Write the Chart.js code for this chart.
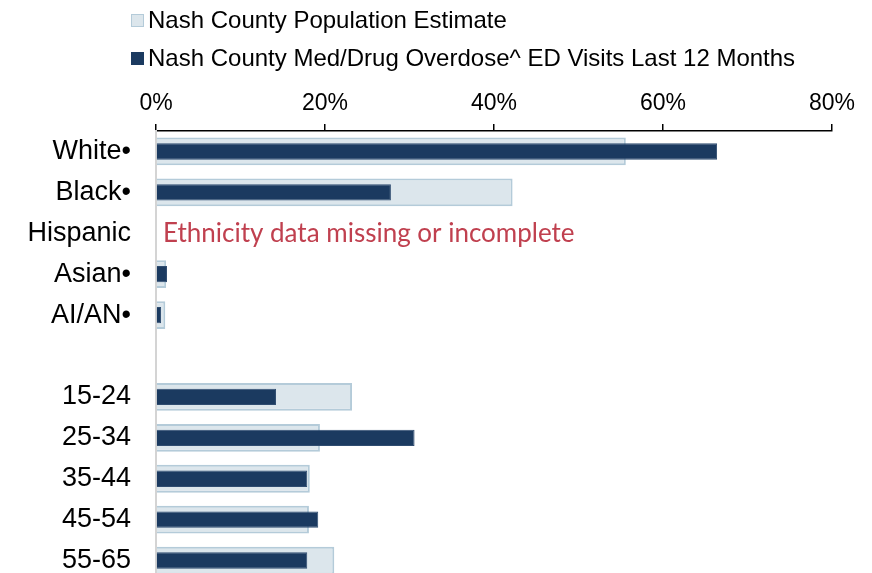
<!DOCTYPE html>
<html>
<head>
<meta charset="utf-8">
<script src="https://cdn.jsdelivr.net/npm/chart.js@4"></script>
<style>
  html, body { margin: 0; padding: 0; background: #fff; overflow: hidden; }
  #wrap { position: relative; width: 872px; height: 600px; }
  #legend { position: absolute; left: 131px; top: 1px; font-family: "Liberation Sans", Arial, sans-serif; font-size: 24px; color: #000; }
  .item { height: 38px; display: flex; align-items: center; }
  .box { width: 11px; height: 11px; margin-right: 4px; }
</style>
</head>
<body>
<div id="wrap">
  <canvas id="myChart" width="872" height="600"></canvas>
  <div id="legend">
    <div class="item"><span class="box" style="background:#dce6ec;border:1px solid #b4cbd9"></span>Nash County Population Estimate</div>
    <div class="item"><span class="box" style="background:#1b3a60;border:1px solid #1b3a60"></span>Nash County Med/Drug Overdose^ ED Visits Last 12 Months</div>
  </div>
</div>
<script>
let labels = ['White\u2022', 'Black\u2022', 'Hispanic', 'Asian\u2022', 'AI/AN\u2022', '', '15-24', '25-34', '35-44', '45-54', '55-65'];
let popData = [55.6, 42.2, null, 1.2, 1.1, null, 23.2, 19.4, 18.2, 18.1, 21.1];
let edData = [66.4, 27.8, null, 1.3, 0.6, null, 14.2, 30.6, 17.9, 19.2, 17.9];
let xTicks = [0, 20, 40, 60, 80];

let noteText = 'Ethnicity data missing or incomplete';

// red note on the Hispanic row
let notePlugin = {
    id: 'note',
    afterDatasetsDraw(chart) {
        let ctx = chart.ctx;
        let y = chart.scales.y.getPixelForValue(2);
        ctx.save();
        ctx.font = '26px Lato, sans-serif';
        ctx.fillStyle = '#c0404f';
        ctx.textBaseline = 'middle';
        ctx.fillText(noteText, chart.chartArea.left + 7, y);
        ctx.restore();
    }
};

let myChart = document.getElementById("myChart").getContext('2d');

let chart = new Chart(myChart, {
    type: 'bar',
    data: {
        labels: labels,
        datasets: [{
                label: 'Nash County Med/Drug Overdose^ ED Visits Last 12 Months',
                data: edData,
                backgroundColor: '#1b3a60',
                borderColor: '#2f4c70',
                borderWidth: 1,
                barPercentage: 0.4,
                categoryPercentage: 1,
                order: 1
            },
            {
                label: 'Nash County Population Estimate',
                data: popData,
                backgroundColor: '#dce6ec',
                borderColor: '#b4cbd9',
                borderWidth: 2,
                barPercentage: 0.68,
                categoryPercentage: 1,
                order: 2
            }
        ]
    },
    options: {
        indexAxis: 'y',
        responsive: false,
        animation: false,
        grouped: false,
        layout: { padding: { left: 0, right: 40, top: 0, bottom: 19 } },
        plugins: {
            legend: { display: false },
            tooltip: { enabled: false }
        },
        scales: {
            x: {
                position: 'top',
                min: 0,
                max: 80,
                afterBuildTicks: (scale) => { scale.ticks = xTicks.map(v => ({ value: v })); },
                afterFit: (scale) => { scale.height = 131; },
                ticks: {
                    callback: (v) => v + '%',
                    color: '#000',
                    padding: 7,
                    maxRotation: 0,
                    font: { family: '"Liberation Sans", Arial, sans-serif', size: 23 }
                },
                grid: { drawOnChartArea: false, drawTicks: true, tickLength: 7, color: '#000', lineWidth: 1.5 },
                border: { display: true, color: '#000', width: 1.5 }
            },
            y: {
                afterFit: (scale) => {
                    scale.width = 156;
                    scale.paddingTop = 0;
                    scale.paddingBottom = 0;
                },
                ticks: {
                    color: '#000',
                    padding: 17,
                    font: { family: '"Liberation Sans", Arial, sans-serif', size: 27 }
                },
                grid: { display: false },
                border: { display: true, color: '#d4d4d4', width: 2 }
            }
        }
    },
    plugins: [notePlugin]
});
</script>
</body>
</html>
